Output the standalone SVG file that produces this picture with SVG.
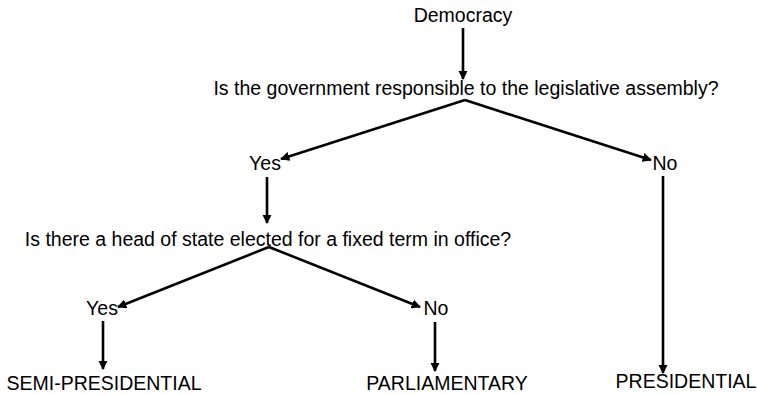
<svg xmlns="http://www.w3.org/2000/svg" width="757" height="395" viewBox="0 0 757 395">
<style>
text{font-family:"Liberation Sans",Arial,sans-serif;font-size:19.5px;fill:#000;text-anchor:middle}
.c line{stroke:#000;stroke-width:2.6;fill:none;marker-end:url(#ah)}
</style>
<defs>
<marker id="ah" viewBox="0 0 10 10" refX="9" refY="5" markerWidth="3.6" markerHeight="3.6" orient="auto" markerUnits="strokeWidth">
<path d="M0,0 L10,5 L0,10 Z" fill="#000"/>
</marker>
</defs>
<rect width="757" height="395" fill="#fff"/>
<g id="democracy"><text x="463" y="22">Democracy</text></g>
<g id="q1"><text x="466" y="95">Is the government responsible to the legislative assembly?</text></g>
<g id="yes1"><text x="265" y="170">Yes</text></g>
<g id="no1"><text x="665" y="170">No</text></g>
<g id="q2"><text x="268" y="246">Is there a head of state elected for a fixed term in office?</text></g>
<g id="yes2"><text x="102" y="315">Yes</text></g>
<g id="no2"><text x="436" y="315">No</text></g>
<g id="semi"><text x="104" y="390">SEMI-PRESIDENTIAL</text></g>
<g id="parl"><text x="447" y="390">PARLIAMENTARY</text></g>
<g id="pres"><text x="686" y="388">PRESIDENTIAL</text></g>
<g class="c" id="connectors">
<line x1="463" y1="28" x2="463" y2="79"/>
<line x1="465" y1="100" x2="281" y2="159"/>
<line x1="465" y1="100" x2="651" y2="160"/>
<line x1="267" y1="177" x2="267" y2="223"/>
<line x1="269" y1="247" x2="118" y2="307"/>
<line x1="269" y1="247" x2="420" y2="307"/>
<line x1="103" y1="321" x2="103" y2="369"/>
<line x1="435" y1="322" x2="435" y2="371"/>
<line x1="663" y1="176" x2="663" y2="373"/>
</g>
</svg>
